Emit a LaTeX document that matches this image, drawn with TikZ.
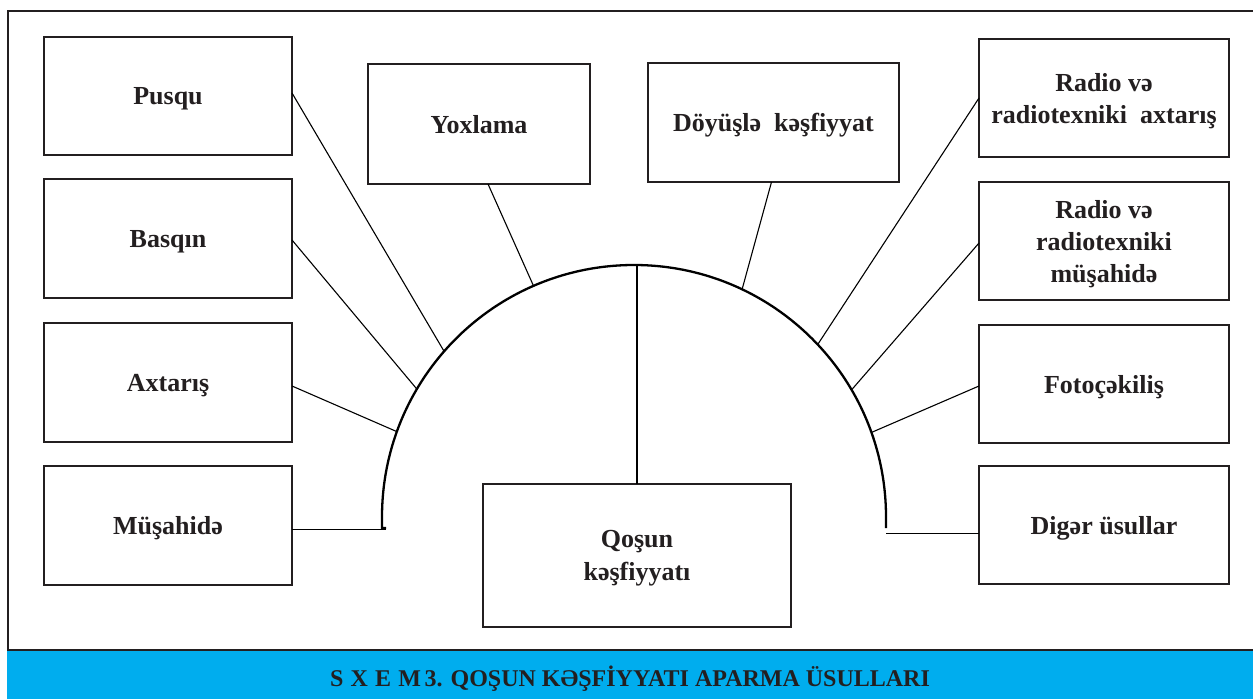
\documentclass[tikz,border=0pt]{standalone}
\usepackage{fontspec}
\setmainfont{Liberation Serif}
\usetikzlibrary{calc}
\definecolor{ink}{HTML}{231F20}
\definecolor{barblue}{HTML}{00ADEE}
\begin{document}
\begin{tikzpicture}[x=1pt,y=-1pt,
  box/.style={draw=ink,line width=2.2pt,inner sep=0pt,outer sep=0pt,align=center,
    font=\fontsize{26}{32}\selectfont\bfseries,text=ink,text depth=0pt},
  conn/.style={draw=black,line width=1.1pt},
  arcline/.style={draw=black,line width=2.3pt},
  frameline/.style={draw=ink,line width=2pt},
  titletext/.style={font=\fontsize{24}{28}\selectfont\bfseries,text=ink,inner sep=0pt}
]
\useasboundingbox (0,0) rectangle (1253,699);
\fill[white] (0,0) rectangle (1253,699);
\fill[barblue] (7,651) rectangle (1253,699);
\draw[frameline] (1253,11) -- (8,11) -- (8,650) -- (1253,650);

% boxes left
\node[box,minimum width=248pt,minimum height=118pt] (pusqu) at (168,96) {Pusqu};
\node[box,minimum width=248pt,minimum height=119pt] (basqin) at (168,238.5) {Basqın};
\node[box,minimum width=248pt,minimum height=119pt] (axtaris) at (168,382.5) {Axtarış};
\node[box,minimum width=248pt,minimum height=119pt] (musahide) at (168,525.5) {Müşahidə};
% top boxes
\node[box,minimum width=222pt,minimum height=120pt] (yoxlama) at (479,124) {Yoxlama};
\node[box,minimum width=251pt,minimum height=119pt] (doyusle) at (773.5,122.5) {Döyüşlə\ \ kəşfiyyat};
% right boxes
\node[box,minimum width=250pt,minimum height=118pt] (radioax) at (1104,98) {Radio və\\radiotexniki\ \ axtarış};
\node[box,minimum width=250pt,minimum height=118pt] (radiomus) at (1104,241) {Radio və\\radiotexniki\\müşahidə};
\node[box,minimum width=250pt,minimum height=118pt] (foto) at (1104,384) {Fotoçəkiliş};
\node[box,minimum width=250pt,minimum height=118pt] (diger) at (1104,525) {Digər üsullar};
% centre box
\node[box,minimum width=308pt,minimum height=143pt,font=\fontsize{26}{33}\selectfont\bfseries] (qosun) at (637,555.5) {Qoşun\\kəşfiyyatı};

% arc
\coordinate (C) at (634,517);
\draw[arcline] (386,528) -- (382,528) -- (382,517) arc[start angle=180,end angle=0,radius=252pt] -- (886,528);

% points on the arc
\coordinate (pP) at ($(C)+(138.9:252pt)$);
\coordinate (pB) at ($(C)+(149.5:252pt)$);
\coordinate (pA) at ($(C)+(160.2:252pt)$);
\coordinate (pY) at ($(C)+(113.5:252pt)$);
\coordinate (pT) at ($(C)+(90:252pt)$);
\coordinate (pD) at ($(C)+(64.6:252pt)$);
\coordinate (pRA) at ($(C)+(43.2:252pt)$);
\coordinate (pRM) at ($(C)+(30.3:252pt)$);
\coordinate (pF) at ($(C)+(19.6:252pt)$);
\coordinate (dL) at (386,529.5);
\coordinate (dR) at (886,533.5);

% connectors
\draw[conn] ($(pusqu.east)+(0,-3)$) -- (pP);
\draw[conn] ($(basqin.east)+(0,1.5)$) -- (pB);
\draw[conn] ($(axtaris.east)+(0,3.5)$) -- (pA);
\draw[conn] (musahide.east |- dL) -- (dL);
\draw[conn] ($(yoxlama.south)+(9,0)$) -- (pY);
\draw[conn] (qosun.north) -- (qosun.north |- pT);
\draw[conn] ($(doyusle.south)+(-2,0)$) -- (pD);
\draw[conn] (radioax.west) -- (pRA);
\draw[conn] ($(radiomus.west)+(0,2)$) -- (pRM);
\draw[conn] ($(foto.west)+(0,2)$) -- (pF);
\draw[conn] (diger.west |- dR) -- (dR);

% title
\node[titletext] (title) at (630,679) {S\hspace{0.3em}X\hspace{0.3em}E\hspace{0.3em}M\hspace{0.15em}3. QOŞUN KƏŞFİYYATI APARMA ÜSULLARI};
\end{tikzpicture}
\end{document}
